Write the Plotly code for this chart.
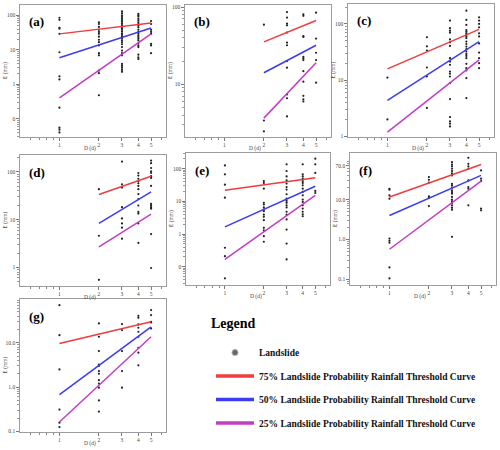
import math
import plotly.graph_objects as go

# ---------------- data ----------------
panel_names = ["(a)", "(b)", "(c)", "(d)", "(e)", "(f)", "(g)"]

# landslide events: rainfall duration D (d) -> cumulative rainfall E (mm)
a_pts = {
    1: [85, 74, 43.6, 41, 29, 8.5, 1.7, 1.38, 0.21, 0.055, 0.048, 0.04],
    2: [63, 56, 46, 38, 33, 29, 24, 19.6, 16.7, 13.4, 8, 6.9, 2.5, 2.1, 0.48],
    3: [130, 115, 100, 90, 80, 72, 65, 58, 52, 47, 42, 38, 34, 30, 27, 24, 21, 18.5,
        16.5, 14.5, 12, 9.5, 8, 6.9, 3.9, 3.4, 3.0, 2.6, 2.3],
    4: [110, 100, 93, 80, 71, 63, 56, 50, 45, 38, 33, 29, 26, 23.4, 21, 18.7, 15.5,
        13.4, 12, 7.2, 6, 5.4],
    5: [68, 56, 38, 33, 29, 14.9, 13.4, 8],
}
b_pts = {
    2: [59, 3.4, 2.46],
    3: [86, 73, 61, 58, 46.7, 34.7, 32, 20, 16.4, 7.4, 6.6, 3.84],
    4: [80.5, 77, 42, 41, 22.7, 21.6, 20.6, 14.8, 10.8, 7.1, 6.4, 6.0],
    5: [84.5, 39, 25.6, 20.6, 10.5],
}
c_pts = {
    1: [11.1, 2.0],
    2: [58, 40, 33.7, 16.8, 11.6, 3.2],
    3: [115, 84, 76, 70, 53, 47, 40.7, 24.6, 21.4, 18.7, 14.2, 13, 11.6, 8.85, 4.6,
        2.2, 1.85, 1.68, 1.5],
    4: [172, 118, 96, 78, 73, 68, 64, 60, 56, 48.6, 44, 39.6, 35.5, 32.3, 29.3, 27,
        24.6, 19.5, 16.3, 14.9, 10.9, 4.8],
    5: [131, 115, 100, 87, 68, 60, 45, 31, 24.6, 20, 16.3],
}
d_pts = {
    2: [43.5, 4.6, 0.55],
    3: [165, 55, 49, 47, 18.3, 10.6, 8.35, 6.8, 4.0],
    4: [95, 84, 72, 64, 58, 51, 43.5, 34.3, 27, 19.8, 14.5, 13.4, 8.35, 3.25],
    5: [173, 153, 121, 103, 95, 81.5, 75, 51, 21.4, 19.8, 18.3, 17, 5.0, 0.97],
}
e_pts = {
    1: [126, 67, 32.5, 13, 0.38, 0.21, 0.044],
    2: [42, 36.6, 24.5, 9, 8, 6.5, 5.6, 5.0, 3.9, 3.35, 2.65, 1.55, 1.3, 0.86, 0.58],
    3: [136, 85, 58, 44, 35, 27.5, 22.9, 16.5, 12.1, 10.3, 9.0, 7.6, 6.5, 4.8, 3.9,
        2.8, 1.37, 0.51, 0.167],
    4: [136, 67, 58, 49.5, 42, 36.6, 31, 24.5, 19.4, 15.3, 11.3, 9.6, 7.6, 6.0, 4.8,
        4.0, 3.5],
    5: [202, 136, 74, 20.8, 18],
}
f_pts = {
    1: [18.8, 17.8, 12.8, 10.6, 1.06, 0.93, 0.83, 0.2, 0.106],
    2: [36.9, 31.6, 26.6, 12.1, 11.2, 6.9],
    3: [87, 76, 68, 59.6, 52, 46, 40.6, 25, 22.8, 20, 17.1, 15.5, 14.1, 11.7, 10, 9.1,
        8.3, 7.2, 6.3, 5.6, 1.17],
    4: [112, 79, 68, 59.6, 30.4, 20.7, 18.8, 7.2],
    5: [54, 33.5, 29.3, 6.0, 5.4],
}
g_pts = {
    1: [71, 14.9, 2.5, 0.31, 0.157, 0.125],
    2: [27.4, 13.7, 6.5, 3.2, 3.0, 2.3, 2.0, 1.43, 1.2, 0.97, 0.5, 0.28],
    3: [26.5, 19.4, 6.5, 2.3, 0.97],
    4: [40.8, 36.8, 26, 21.9, 17.8, 13.7, 7.7, 6.0, 3.1],
    5: [55, 42.3, 29.9, 28.8, 21.1],
}

# threshold curves (power law, straight on log-log): E at the first and last D
curve_D = {"a": [1, 5], "b": [2, 5], "c": [1, 5], "d": [2, 5], "e": [1, 5], "f": [1, 5], "g": [1, 5]}
p75 = {"a": [29, 60], "b": [35.4, 67], "c": [15.9, 80], "d": [33.8, 81.5],
       "e": [21.8, 53], "f": [11.7, 76], "g": [9.66, 29.9]}
p50 = {"a": [5.9, 42.7], "b": [14.1, 32], "c": [4.35, 48.5], "d": [8.35, 38.4],
       "e": [1.66, 28.9], "f": [4.0, 40.6], "g": [0.676, 23]}
p25 = {"a": [0.4, 29], "b": [3.65, 19], "c": [1.19, 23], "d": [2.69, 13],
       "e": [0.167, 15.3], "f": [0.57, 29.3], "g": [0.163, 13.7]}

# axis ticks
x_tickvals = [1, 2, 3, 4, 5]
x_ticktext = ["1", "2", "3", "4", "5"]
y_tickvals = {"a": [0.1, 1, 10, 100], "b": [10, 100], "c": [1, 10, 100], "d": [1, 10, 100],
              "e": [0.1, 1, 10, 100], "f": [0.1, 1, 10, 70], "g": [0.1, 1, 10]}
y_ticktext = {"a": ["0", "1", "10", "100"], "b": ["10", "100"], "c": ["1", "10", "100"],
              "d": ["1", "10", "100"], "e": ["0", "1", "10", "100"],
              "f": ["0.1", "1.0", "10.0", "70.0"], "g": ["0.1", "1.0", "10.0"]}
# y ranges (log10 of E)
y_range = {"a": [-1.53, 2.30], "b": [0.318, 2.026], "c": [-0.012, 2.355], "d": [-0.39, 2.355],
           "e": [-1.56, 2.48], "f": [-1.14, 2.17], "g": [-1.015, 1.99]}

legend_names = ["Landslide",
                "75% Landslide Probability Rainfall Threshold Curve",
                "50% Landslide Probability Rainfall Threshold Curve",
                "25% Landslide Probability Rainfall Threshold Curve"]

# ---------------- layout helpers ----------------
W, H = 500, 450
# panel boxes in pixels: left, right, top, bottom
boxes = {"a": (20, 166, 5, 137), "b": (185, 331, 5, 137), "c": (348, 494, 4, 137),
         "d": (20, 166, 155, 286), "e": (186, 330, 153, 285), "f": (350, 496, 153, 285),
         "g": (20, 166, 299, 432)}
pts_all = {"a": a_pts, "b": b_pts, "c": c_pts, "d": d_pts, "e": e_pts, "f": f_pts, "g": g_pts}

RED, BLUE, MAG = "#f03c3c", "#3c3cf0", "#c43cc4"
SERIF = "Liberation Serif"

def px(x):
    return x / W

def py(y):
    return 1 - y / H

fig = go.Figure()
layout = {}
annotations = []

minor_x = [0.6, 0.7, 0.8, 0.9, 6]

for i, key in enumerate(["a", "b", "c", "d", "e", "f", "g"]):
    n = i + 1
    xa = "x" if n == 1 else f"x{n}"
    ya = "y" if n == 1 else f"y{n}"
    l, r, t, b = boxes[key]

    xs, ys = [], []
    for d, vals in pts_all[key].items():
        xs += [d] * len(vals)
        ys += vals
    fig.add_trace(go.Scatter(x=xs, y=ys, mode="markers", xaxis=xa, yaxis=ya, showlegend=False,
                             marker=dict(color="#222222", size=2.2, line=dict(width=0)),
                             hoverinfo="skip"))
    for series, col in ((p75, RED), (p50, BLUE), (p25, MAG)):
        fig.add_trace(go.Scatter(x=curve_D[key], y=series[key], mode="lines", xaxis=xa, yaxis=ya,
                                 showlegend=False, line=dict(color=col, width=1.5),
                                 hoverinfo="skip"))

    lo, hi = y_range[key]
    minor_y = []
    for e in range(math.floor(lo) - 1, math.ceil(hi) + 1):
        for m in range(2, 10):
            v = m * 10 ** e
            if lo < math.log10(v) < hi:
                minor_y.append(v)

    axis_common = dict(showline=True, linecolor="#9c9c9c", linewidth=1.4, mirror=True,
                       showgrid=False, zeroline=False, ticks="outside", ticklen=2.5,
                       tickcolor="#777777", tickwidth=0.8, automargin=False,
                       tickfont=dict(family=SERIF, size=5.5, color="#444444"))
    layout["xaxis" if n == 1 else f"xaxis{n}"] = dict(
        type="log", range=[math.log10(0.5), math.log10(6.5)],
        domain=[px(l), px(r)], anchor=ya, tickmode="array",
        tickvals=x_tickvals, ticktext=x_ticktext,
        minor=dict(tickmode="array", tickvals=minor_x, ticks="outside", ticklen=2,
                   tickcolor="#888888", tickwidth=0.6),
        **axis_common)
    layout["yaxis" if n == 1 else f"yaxis{n}"] = dict(
        type="log", range=[lo, hi], domain=[py(b), py(t)], anchor=xa, tickmode="array",
        tickvals=y_tickvals[key], ticktext=y_ticktext[key],
        minor=dict(tickmode="array", tickvals=minor_y, ticks="outside", ticklen=1.5,
                   tickcolor="#999999", tickwidth=0.5),
        **axis_common)

    # panel label
    annotations.append(dict(text=f"<b>{panel_names[i]}</b>", x=px(l + 7), y=py(t + 17),
                            xref="paper", yref="paper", xanchor="left", yanchor="middle",
                            showarrow=False, font=dict(family=SERIF, size=13, color="black")))
    # axis titles
    annotations.append(dict(text="E (mm)", x=px(l - 15), y=py((t + b) / 2), xref="paper",
                            yref="paper", xanchor="center", yanchor="middle", textangle=-90,
                            showarrow=False, font=dict(family=SERIF, size=5.5, color="#444444")))
    annotations.append(dict(text="D (d)", x=px(l + 70), y=py(b + 11.5), xref="paper",
                            yref="paper", xanchor="center", yanchor="middle",
                            showarrow=False, font=dict(family=SERIF, size=5.5, color="#444444")))

# legend (dummy legend-only traces)
fig.add_trace(go.Scatter(x=[None], y=[None], mode="markers", name=legend_names[0],
                         legendgroup="g0",
                         marker=dict(color="#666666", size=6, line=dict(color="#aaaaaa", width=1))))
for j, col in enumerate((RED, BLUE, MAG)):
    fig.add_trace(go.Scatter(x=[None], y=[None], mode="lines", name=legend_names[j + 1],
                             legendgroup=f"g{j + 1}", line=dict(color=col, width=3.5)))

annotations.append(dict(text="<b>Legend</b>", x=px(209), y=py(323), xref="paper", yref="paper",
                        xanchor="left", yanchor="middle", showarrow=False,
                        font=dict(family=SERIF, size=14, color="black")))

fig.update_layout(
    width=W, height=H, margin=dict(l=0, r=0, t=0, b=0, autoexpand=False),
    paper_bgcolor="white", plot_bgcolor="white",
    annotations=annotations,
    showlegend=True,
    legend=dict(x=px(211), y=py(338), xanchor="left", yanchor="top",
                traceorder="grouped", tracegroupgap=4.5, bgcolor="rgba(0,0,0,0)",
                font=dict(family=SERIF, size=9.5, color="#111111", weight="bold"),
                itemwidth=38),
    **layout,
)

fig.write_html("out.html", config={"displayModeBar": False},
               post_script="document.body.style.margin='0';document.body.style.padding='0';")
